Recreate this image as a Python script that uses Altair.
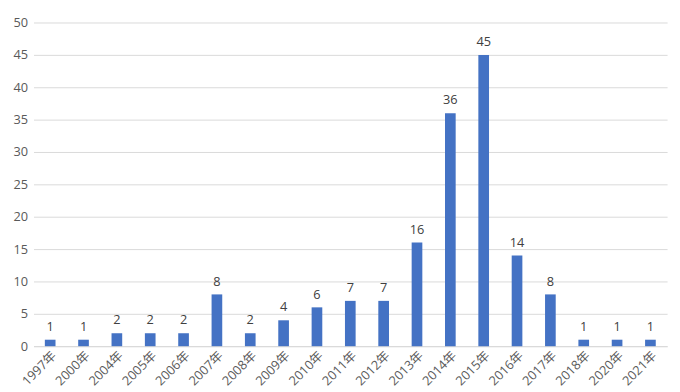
import altair as alt
import pandas as pd

years = ["1997年", "2000年", "2004年", "2005年", "2006年", "2007年", "2008年", "2009年",
         "2010年", "2011年", "2012年", "2013年", "2014年", "2015年", "2016年", "2017年",
         "2018年", "2020年", "2021年"]
counts = [1, 1, 2, 2, 2, 8, 2, 4, 6, 7, 7, 16, 36, 45, 14, 8, 1, 1, 1]

df = pd.DataFrame({"year": years, "count": counts})

font = "Open Sans, Noto Sans CJK SC"

base = alt.Chart(df).encode(
    x=alt.X("year:N", sort=years, title=None,
            scale=alt.Scale(paddingInner=0.68, paddingOuter=0.34),
            axis=alt.Axis(labelAngle=-45, ticks=False, domainColor="#d9d9d9",
                          labelColor="#595959", labelFontSize=13, labelFont=font,
                          labelPadding=3, grid=False)),
    y=alt.Y("count:Q", title=None,
            scale=alt.Scale(domain=[0, 50], nice=False),
            axis=alt.Axis(values=list(range(0, 51, 5)), ticks=False, domain=False,
                          gridColor="#d9d9d9", labelColor="#595959", labelFontSize=13,
                          labelFont=font, labelPadding=6)),
)

bars = base.mark_bar(color="#4472C4")
text = base.mark_text(dy=-13, fontSize=13, color="#404040", font=font).encode(text="count:Q")

chart = (bars + text).properties(width=646, height=330).configure_view(stroke=None)

chart.save("out.html", embed_options={"renderer": "svg", "actions": False})
